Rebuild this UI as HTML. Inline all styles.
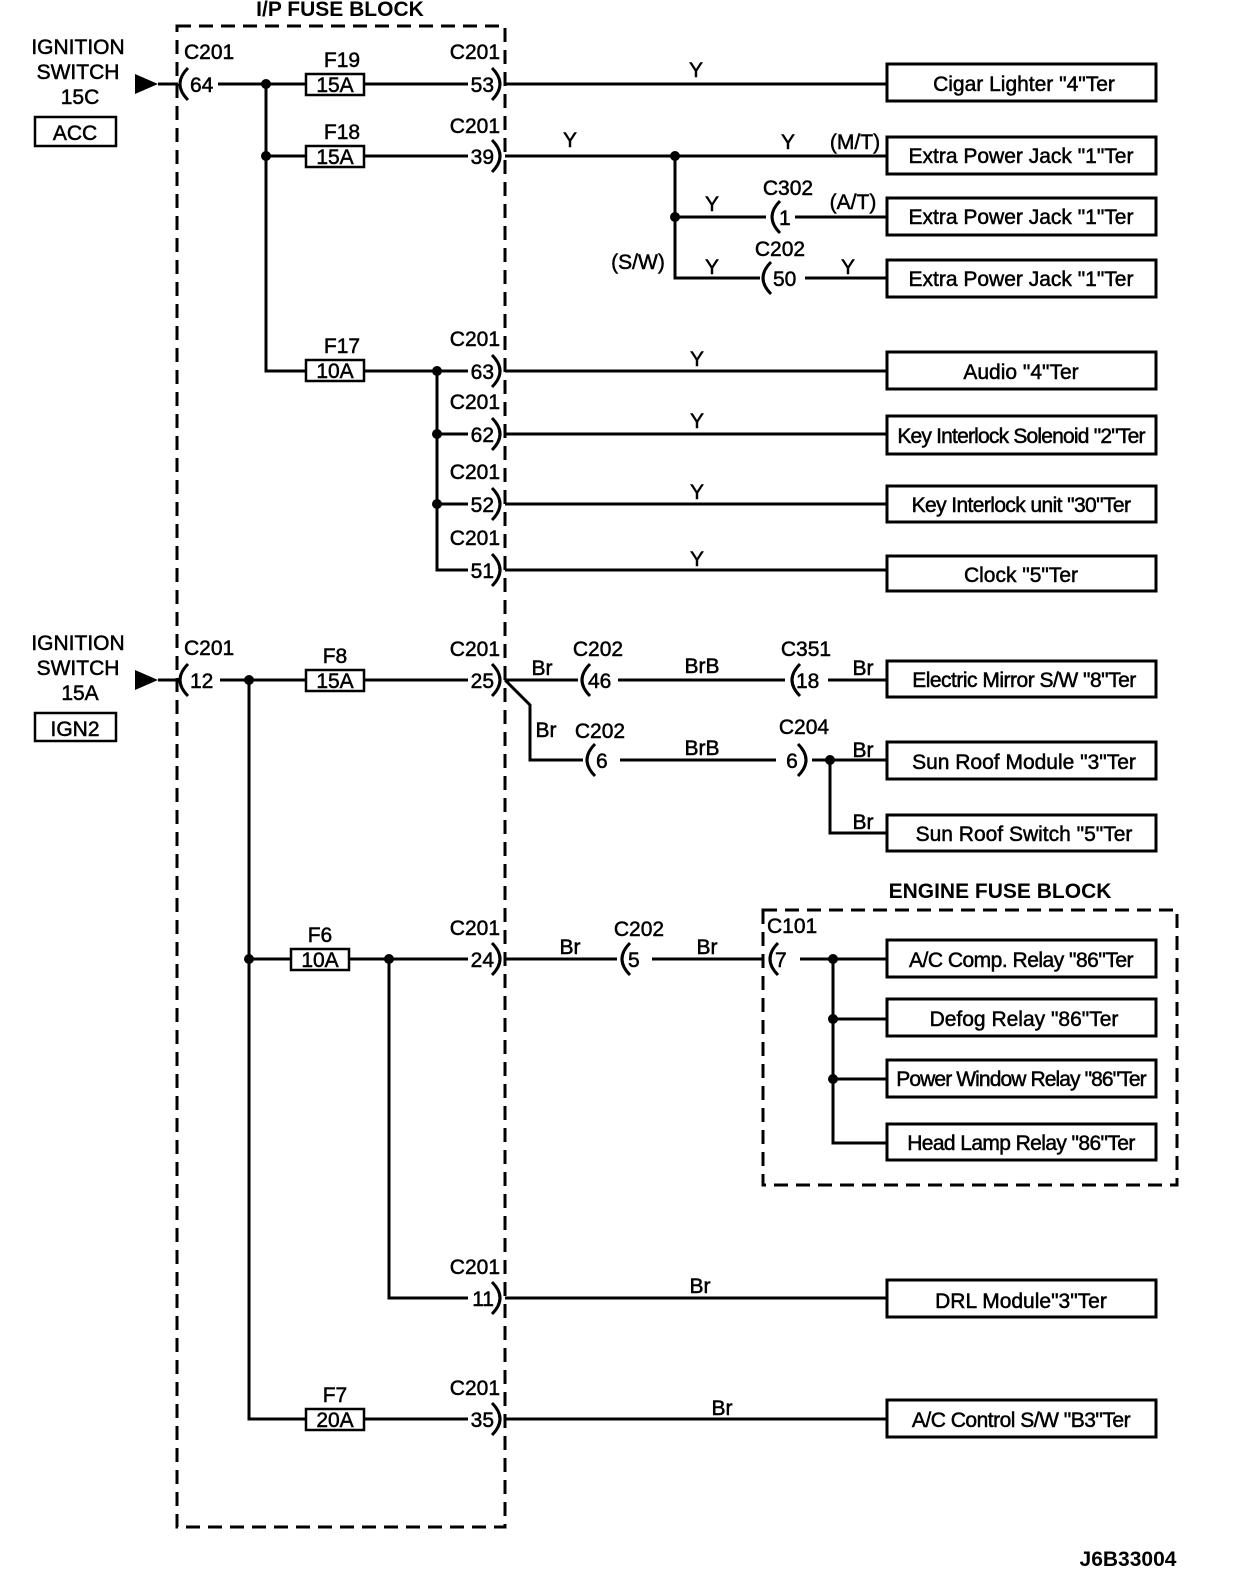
<!DOCTYPE html>
<html><head><meta charset="utf-8"><style>
html,body{margin:0;padding:0;background:#fff;overflow:hidden;width:1248px;height:1584px}
svg{display:block}
text{font-family:"Liberation Sans",Arial,sans-serif;font-size:21px;fill:#000;stroke:#000;stroke-width:0.5}
.b{font-weight:bold;stroke-width:0}
.m{text-anchor:middle}
.e{text-anchor:end}
</style></head><body>
<svg width="1248" height="1584" viewBox="0 0 1248 1584" xmlns="http://www.w3.org/2000/svg">
<g fill="none" stroke="#000" stroke-width="3">
<rect x="177" y="26" width="328" height="1501" stroke-dasharray="14,8"/>
<rect x="763" y="910" width="414" height="275" stroke-dasharray="14,8"/>
<rect x="887" y="64" width="269" height="37"/>
<rect x="887" y="137" width="269" height="37"/>
<rect x="887" y="198" width="269" height="37"/>
<rect x="887" y="260" width="269" height="37"/>
<rect x="887" y="352" width="269" height="37"/>
<rect x="887" y="416" width="269" height="38"/>
<rect x="887" y="486" width="269" height="36"/>
<rect x="887" y="556" width="269" height="35"/>
<rect x="887" y="661" width="269" height="36"/>
<rect x="887" y="742" width="269" height="37"/>
<rect x="887" y="815" width="269" height="36"/>
<rect x="887" y="940" width="269" height="37"/>
<rect x="887" y="999" width="269" height="37"/>
<rect x="887" y="1060" width="269" height="37"/>
<rect x="887" y="1124" width="269" height="36"/>
<rect x="887" y="1280" width="269" height="37"/>
<rect x="887" y="1400" width="269" height="37"/>
<rect x="35" y="117" width="81" height="29" stroke-width="2.5"/>
<rect x="35" y="713" width="81" height="28" stroke-width="2.5"/>
<rect x="306" y="74" width="58" height="21" stroke-width="2.5"/>
<rect x="306" y="146" width="58" height="21" stroke-width="2.5"/>
<rect x="306" y="360" width="58" height="21" stroke-width="2.5"/>
<rect x="306" y="670" width="58" height="21" stroke-width="2.5"/>
<rect x="291" y="949" width="58" height="21" stroke-width="2.5"/>
<rect x="306" y="1409" width="58" height="21" stroke-width="2.5"/>
<path d="M158 84H178M218 84H306M364 84H468M505 84H887"/>
<path d="M266 84V371H306M266 156H306M364 156H468M505 156H887"/>
<path d="M675 156V278H760M675 217H766M795 217H887M805 278H887"/>
<path d="M364 371H468M437 371V570H468M437 434H468M437 504H468M505 371H887M505 434H887M505 504H887M505 570H887"/>
<path d="M158 680H178M220 680H306M364 680H468M505 680H578M618 680H785M828 680H887"/>
<path d="M505 680L530 705V760H583M620 760H776M812 760H887M830 760V833H887"/>
<path d="M249 680V1419H306M249 959H291M349 959H468M389 959V1298H468M505 959H617M652 959H763M800 959H887M833 959V1143H887M833 1019H887M833 1079H887"/>
<path d="M505 1298H887M364 1419H468M505 1419H887"/>
<path d="M188 68Q172 84 188 100M188 664Q172 680 188 696M590 664Q574 680 590 696M800 664Q784 680 800 696M595 744Q579 760 595 776M780 201Q764 217 780 233M771 262Q755 278 771 294M630 943Q614 959 630 975M778 943Q762 959 778 975"/>
<path d="M492 68Q508 84 492 100M492 140Q508 156 492 172M492 355Q508 371 492 387M492 418Q508 434 492 450M492 488Q508 504 492 520M492 554Q508 570 492 586M492 664Q508 680 492 696M492 943Q508 959 492 975M492 1282Q508 1298 492 1314M492 1403Q508 1419 492 1435M798 744Q814 760 798 776"/>
</g>
<g fill="#000">
<polygon points="135,74 158,84 135,94"/>
<polygon points="135,670 158,680 135,690"/>
<circle cx="266" cy="84" r="5"/><circle cx="266" cy="156" r="5"/>
<circle cx="675" cy="156" r="5"/><circle cx="675" cy="217" r="5"/>
<circle cx="437" cy="371" r="5"/><circle cx="437" cy="434" r="5"/><circle cx="437" cy="504" r="5"/>
<circle cx="249" cy="680" r="5"/><circle cx="249" cy="959" r="5"/><circle cx="389" cy="959" r="5"/>
<circle cx="830" cy="760" r="5"/>
<circle cx="833" cy="959" r="5"/><circle cx="833" cy="1019" r="5"/><circle cx="833" cy="1079" r="5"/>
</g>
<text x="340" y="16" class="b m">I/P FUSE BLOCK</text>
<text x="1000" y="898" class="b m">ENGINE FUSE BLOCK</text>
<text x="1128" y="1566" class="b m">J6B33004</text>
<text x="78" y="54" class="m">IGNITION</text><text x="78" y="79" class="m">SWITCH</text><text x="80" y="104" class="m">15C</text>
<text x="75" y="140" class="m">ACC</text>
<text x="78" y="650" class="m">IGNITION</text><text x="78" y="675" class="m">SWITCH</text><text x="80" y="700" class="m">15A</text>
<text x="75" y="736" class="m">IGN2</text>
<text x="184" y="59">C201</text><text x="190" y="92">64</text>
<text x="184" y="655">C201</text><text x="190" y="688">12</text>
<text x="342" y="67" class="m">F19</text><text x="335" y="92" class="m">15A</text>
<text x="342" y="139" class="m">F18</text><text x="335" y="164" class="m">15A</text>
<text x="342" y="353" class="m">F17</text><text x="335" y="378" class="m">10A</text>
<text x="335" y="663" class="m">F8</text><text x="335" y="688" class="m">15A</text>
<text x="320" y="942" class="m">F6</text><text x="320" y="967" class="m">10A</text>
<text x="335" y="1402" class="m">F7</text><text x="335" y="1427" class="m">20A</text>
<text x="500" y="59" class="e">C201</text><text x="494" y="92" class="e">53</text>
<text x="500" y="133" class="e">C201</text><text x="494" y="164" class="e">39</text>
<text x="500" y="346" class="e">C201</text><text x="494" y="379" class="e">63</text>
<text x="500" y="409" class="e">C201</text><text x="494" y="442" class="e">62</text>
<text x="500" y="479" class="e">C201</text><text x="494" y="512" class="e">52</text>
<text x="500" y="545" class="e">C201</text><text x="494" y="578" class="e">51</text>
<text x="500" y="656" class="e">C201</text><text x="494" y="688" class="e">25</text>
<text x="500" y="935" class="e">C201</text><text x="494" y="967" class="e">24</text>
<text x="500" y="1274" class="e">C201</text><text x="494" y="1306" class="e">11</text>
<text x="500" y="1395" class="e">C201</text><text x="494" y="1427" class="e">35</text>
<text x="696" y="77" class="m">Y</text>
<text x="570" y="147" class="m">Y</text><text x="788" y="149" class="m">Y</text><text x="855" y="149" class="m">(M/T)</text>
<text x="788" y="195" class="m">C302</text><text x="712" y="211" class="m">Y</text><text x="779" y="225">1</text><text x="853" y="209" class="m">(A/T)</text>
<text x="780" y="256" class="m">C202</text><text x="638" y="269" class="m">(S/W)</text><text x="712" y="274" class="m">Y</text><text x="773" y="286">50</text><text x="848" y="274" class="m">Y</text>
<text x="697" y="366" class="m">Y</text><text x="697" y="428" class="m">Y</text><text x="697" y="499" class="m">Y</text><text x="697" y="566" class="m">Y</text>
<text x="542" y="675" class="m">Br</text><text x="598" y="656" class="m">C202</text><text x="588" y="688">46</text>
<text x="702" y="673" class="m">BrB</text><text x="806" y="656" class="m">C351</text><text x="796" y="688">18</text><text x="863" y="675" class="m">Br</text>
<text x="546" y="737" class="m">Br</text><text x="600" y="738" class="m">C202</text><text x="596" y="768">6</text>
<text x="702" y="755" class="m">BrB</text><text x="804" y="734" class="m">C204</text><text x="792" y="768" class="m">6</text><text x="863" y="757" class="m">Br</text>
<text x="863" y="829" class="m">Br</text>
<text x="570" y="954" class="m">Br</text><text x="639" y="936" class="m">C202</text><text x="628" y="967">5</text><text x="707" y="954" class="m">Br</text>
<text x="767" y="933">C101</text><text x="775" y="967">7</text>
<text x="700" y="1293" class="m">Br</text><text x="722" y="1415" class="m">Br</text>
<text x="1024" y="91" class="m">Cigar Lighter "4"Ter</text>
<text x="1021" y="163" class="m">Extra Power Jack "1"Ter</text>
<text x="1021" y="224" class="m">Extra Power Jack "1"Ter</text>
<text x="1021" y="286" class="m">Extra Power Jack "1"Ter</text>
<text x="1021" y="379" class="m">Audio "4"Ter</text>
<text x="1021" y="443" class="m" style="letter-spacing:-0.8px">Key Interlock Solenoid "2"Ter</text>
<text x="1021" y="512" class="m" style="letter-spacing:-0.6px">Key Interlock unit "30"Ter</text>
<text x="1021" y="582" class="m">Clock "5"Ter</text>
<text x="1024" y="687" class="m" style="letter-spacing:-0.5px">Electric Mirror S/W "8"Ter</text>
<text x="1024" y="769" class="m">Sun Roof Module "3"Ter</text>
<text x="1024" y="841" class="m">Sun Roof Switch "5"Ter</text>
<text x="1021" y="967" class="m" style="letter-spacing:-0.5px">A/C Comp. Relay "86"Ter</text>
<text x="1024" y="1026" class="m">Defog Relay "86"Ter</text>
<text x="1021" y="1086" class="m" style="letter-spacing:-0.9px">Power Window Relay "86"Ter</text>
<text x="1021" y="1150" class="m" style="letter-spacing:-0.6px">Head Lamp Relay "86"Ter</text>
<text x="1021" y="1308" class="m">DRL Module"3"Ter</text>
<text x="1021" y="1427" class="m" style="letter-spacing:-0.5px">A/C Control S/W "B3"Ter</text>
</svg>
</body></html>
